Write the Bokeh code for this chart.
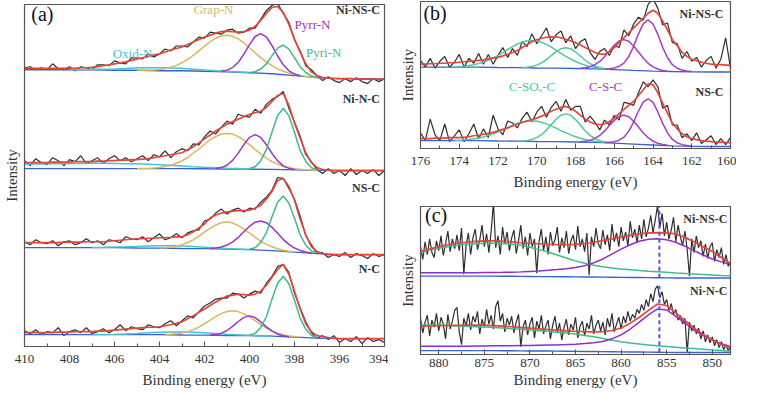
import numpy as np

from bokeh.plotting import figure
from bokeh.models import Range1d, SingleIntervalTicker, FixedTicker, Label
from bokeh.layouts import row, column
from bokeh.embed import file_html
from bokeh.resources import INLINE


# ---------- (a) N 1s : 410 -> 394 eV, 0.25 eV steps, intensity in a.u. ----------
n1s_energy = np.linspace(410, 394, 65)
n1s_base_energy = np.linspace(410, 394, 17)

ninsc_n_raw = [2, 3, 0, 2, 0, 6, 1, 0, 3, -1, 3, 2, 0, 5, 5, 4, 9, 7, 6, 12,
               12, 11, 16, 13, 16, 21, 19, 24, 24, 23, 28, 33, 32, 38, 37, 36, 40, 41, 37, 38,
               42, 42, 51, 60, 65, 67, 57, 48, 30, 19, 4, 0, -6, -11, -7, -11, -13, -9, -12, -8,
               -12, -14, -9, -12, -9]
ninsc_n_fit = [1.5, 1.5, 1.5, 1.5, 1.5, 1.5, 1.5, 1.5, 1.5, 1.5, 2, 2, 2.5, 3, 4, 5, 6, 7, 8, 9.5,
               11, 12, 13.5, 15, 16, 18, 20, 21.5, 23, 25.5, 28, 30.5, 33, 35, 37, 38.5, 39, 38.5, 38, 38.5,
               40, 44, 50, 57, 63, 64, 58, 46, 31, 18, 6, -2, -6, -8, -8.5, -9, -9, -9, -9, -9.5,
               -9.5, -9.5, -9.5, -9.5, -9.5]
ninsc_n_base = [0, 0, 0, 0, -0.5, -0.5, -1, -1, -1.5, -2, -3, -4, -6, -8, -9, -9, -9.5]
ninsc_grap = [-0.5, -0.5, -0.5, -0.3, 0.2, 1.1, 2.5, 4.4, 7.1, 10.5, 14.6, 19.1, 23.8, 28.3, 31.9, 34.2,
              35.0, 33.9, 31.2, 27.1, 22.3, 17.2, 12.3, 7.9, 4.1, 0.9, -1.5, -3.4, -4.8, -5.8, -6.6, -7.3, -8.0]
ninsc_pyrr = [-1.5, -0.4, 2.2, 7.5, 15.7, 25.4, 33.6, 36.5, 33.1, 24.4, 13.9, 5.0, -1.1, -4.4, -6.1]
ninsc_pyri = [-2.7, -2.0, 0.7, 5.9, 14.3, 21.9, 25.0, 20.9, 12.3, 3.1, -2.8, -6.3, -7.7]
ninsc_oxid = [0.1, 0.2, 0.4, 0.5, 0.7, 1.3, 1.9, 2.1, 2.0, 1.85, 1.4, 0.55, -0.3, -1.0, -1.6, -2.3, -2.9]

ninc_n_raw = [8, 3, 10, 6, 4, 11, 8, 3, 9, 7, 13, 5, 8, 11, 5, 10, 13, 8, 11, 7,
              10, 13, 8, 14, 12, 18, 11, 17, 20, 18, 25, 24, 32, 38, 35, 42, 48, 45, 55, 53,
              52, 60, 56, 65, 70, 73, 78, 61, 47, 33, 14, 7, -1, -5, 0, -5, -2, -7, 0, -6,
              -2, -5, -1, -7, -2]
ninc_n_fit = [6, 6, 6, 6, 6, 6.5, 6.5, 6.5, 6.5, 7, 7, 7, 7, 7.5, 7.5, 8, 8, 8.5, 8.5, 9,
              9, 9.5, 10, 11, 12, 13, 14, 15, 16, 19, 22, 26, 30, 34, 38, 41.5, 45, 47.5, 50, 52.5,
              55, 56.5, 58, 62, 68, 74, 76, 64, 46, 31, 16, 6, 1, -1, -1.5, -2, -2, -2, -2, -2,
              -2, -2, -2, -2, -2]
ninc_n_base = [0, 0, 0, 0, 0, 0, 0, 0, -0.2, -0.4, -0.6, -0.8, -1.3, -1.8, -2, -2, -2]
ninc_grap = [0.1, 0.2, 0.4, 0.7, 1.1, 2.2, 3.2, 5.4, 7.9, 11.2, 15.5, 19.8, 24.6, 29.0, 32.5, 35.0,
             35.6, 34.9, 32.3, 28.7, 24.2, 19.2, 14.8, 10.5, 7.1, 4.5, 2.2, 1.0, -0.2, -0.7, -1.2, -1.5, -1.7]
ninc_pyrr = [0.0, 1.0, 3.4, 8.3, 15.6, 24.3, 31.6, 34.3, 31.5, 24.1, 15.3, 7.8, 2.8, 0.2, -1.0]
ninc_pyri = [0.0, 1.9, 8.0, 19.1, 37.0, 53.7, 61.0, 53.4, 36.5, 18.4, 7.2, 0.8, -1.2]
ninc_oxid = [4.5, 4.6, 4.8, 5, 5.1, 5.2, 5.3, 5.3, 5.2, 5, 4.8, 4.4, 3.9, 3.3, 2.6, 1.9, 1.3, 0.8, 0.3, 0, -0.3]

nsc_n_raw = [6, 3, 8, 5, 4, 7, 2, 6, 7, 3, 5, 9, 5, 7, 3, 8, 7, 5, 11, 9,
             8, 11, 6, 10, 14, 8, 10, 14, 10, 15, 17, 18, 27, 29, 35, 39, 34, 38, 40, 36,
             40, 39, 46, 51, 58, 71, 70, 60, 49, 32, 12, 3, -6, -5, -10, -7, -9, -5, -10, -6,
             -8, -11, -6, -9, -7]
nsc_n_fit = [5, 5, 5, 5, 5, 5, 5, 5.5, 5.5, 5.5, 5.5, 6, 6, 6, 6, 6.5, 7, 7.5, 8, 8.5,
             9, 9, 9.5, 9.5, 10, 10, 10.5, 11, 11, 13, 16, 20, 24, 30, 33, 35, 36, 37, 37.5, 37.5,
             38, 40, 43, 49, 57, 68, 70, 62, 48, 29, 13, 1, -4, -6, -7, -7, -7, -7, -7, -7,
             -7, -7, -7, -7, -7]
nsc_n_base = [0, 0, 0, 0, 0, -0.3, -0.5, -0.8, -1, -1.5, -2, -3, -4.5, -6, -7, -7, -7]
nsc_grap = [-0.2, 0.0, 0.45, 1.5, 3.05, 5.2, 7.9, 11.75, 15.8, 19.5, 22.95, 25.3, 26.0, 25.1, 22.45,
            18.7, 14.8, 10.45, 6.3, 3.3, 0.85, -1.2, -2.65, -3.55, -4.2]
nsc_pyrr = [-0.8, -0.35, 0.7, 2.6, 5.8, 10.35, 16.1, 21.6, 25.75, 27.0, 25.25, 20.6, 14.6, 8.35, 3.3,
            -0.4, -2.8, -4.35, -5.3]
nsc_pyri = [-1.4, -0.05, 5.3, 15.15, 31.2, 45.9, 52.25, 45.2, 29.7, 13.0, 2.55, -3.4, -5.4]
nsc_oxid = [0.2, 0.35, 0.6, 0.85, 1.2, 1.6, 1.9, 1.85, 1.6, 1.1, 0.5, -0.25, -0.9, -1.4, -1.8]

nc_n_raw = [4, 1, 5, 0, 3, 2, 7, -1, 3, 5, 2, 7, 1, 3, 6, 2, 5, 10, 4, 8,
            6, 5, 10, 8, 7, 11, 14, 9, 14, 19, 17, 23, 29, 32, 36, 37, 37, 42, 41, 37,
            41, 44, 42, 52, 59, 69, 71, 63, 42, 27, 13, 2, -4, -1, -5, -1, -8, -4, -7, -2,
            -9, -3, -7, -5, -8]
nc_n_fit = [2, 2, 2, 2, 2, 2, 2.5, 2.5, 2.5, 3, 3, 3, 3, 3.5, 3.5, 4, 4.5, 5, 5.5, 6,
            6.5, 7, 7.5, 7.5, 8, 9, 10, 11.5, 13, 16, 19, 22.5, 26, 29.5, 33, 36, 39, 40, 41, 40.5,
            40, 41, 44, 50, 58, 66, 71, 61, 44, 26, 11, 3, -1, -2, -3, -3.5, -4, -4, -4, -4,
            -4, -4, -4, -4, -4]
nc_n_base = [0, 0, 0, 0, 0, 0, 0, -0.3, -0.5, -0.8, -1, -1.5, -2.5, -3.5, -4, -4, -4]
nc_grap = [0.17, 0.35, 0.78, 1.7, 3.15, 5.1, 7.55, 11.0, 14.6, 18.25, 21.3, 23.4, 24.15, 23.3, 21.05,
           17.9, 14.1, 10.25, 6.6, 4.0, 1.75, 0.0, -1.25, -2.0, -2.5]
nc_pyrr = [-0.38, 0.15, 1.48, 4.2, 8.35, 13.3, 17.45, 19.0, 17.28, 12.95, 7.82, 3.5, 0.45, -1.2, -2.05]
nc_pyri = [-0.4, 1.28, 7.25, 18.1, 35.7, 51.95, 59.0, 51.45, 34.7, 16.75, 5.5, -0.85, -2.9]
nc_oxid = [0.1, 0.2, 0.4, 0.75, 1.2, 1.8, 2.4, 2.7, 2.7, 2.45, 1.9, 1.15, 0.4, -0.15, -0.6, -1.05, -1.4]

# ---------- (b) S 2p : 176 -> 160 eV ----------
s2p_energy = np.linspace(176, 160, 65)
s2p_base_energy = np.linspace(176, 160, 17)

ninsc_s_raw = [7, 0, 9, -1, 6, 11, 0, 5, 13, 0, 9, 4, 14, 3, 13, 3, 12, 20, 10, 19,
               12, 26, 21, 34, 24, 32, 40, 26, 33, 37, 25, 32, 19, 26, 29, 15, 8, 16, 19, 12,
               22, 20, 38, 32, 44, 51, 48, 64, 70, 60, 43, 45, 25, 24, 9, 16, 6, 10, 0, 7,
               11, -1, 8, 30, -1]
ninsc_s_fit = [3, 3, 3.5, 3.5, 4, 4, 4.5, 4.5, 5, 5.5, 6, 6.5, 7, 7.5, 8.5, 9.5, 10, 11.5, 13, 15,
               17, 20, 23, 26, 28, 29.5, 30.5, 31, 31, 30, 28.5, 27, 25, 22.5, 20, 17.5, 15, 13.5, 13, 16,
               20, 25, 30, 35, 40, 45, 50, 55, 58, 55, 47, 38, 28, 22, 15, 11, 8, 6.5, 5, 4,
               3, 2.5, 2.5, 2, 2]
ninsc_s_base = [0, 0, 0, 0, -0.3, -0.5, -0.8, -1, -1.3, -1.8, -2.5, -3.3, -4, -4.5, -4.8, -5, -5]
ninsc_sox1 = [0.4, 0.6, 1.0, 1.6, 2.5, 3.6, 5.1, 6.95, 9.3, 11.9, 14.85, 18.0, 20.95, 23.6, 25.6, 26.85,
              27.3, 26.7, 25.35, 23.2, 20.45, 17.4, 14.1, 11.05, 8.3, 5.8, 3.8, 2.05, 0.8, -0.2, -1.0, -1.55, -1.9]
ninsc_sox2 = [-0.4, 0.0, 0.8, 2.1, 4.4, 7.7, 11.85, 15.8, 18.9, 19.85, 18.8, 15.5, 11.4, 7.05, 3.6, 1.1,
              -0.5, -1.55, -2.1]
ninsc_csc1 = [-1.1, -0.65, 0.5, 2.5, 5.8, 10.55, 16.6, 22.3, 26.8, 28.1, 26.4, 21.5, 15.4, 9.05, 3.9, 0.3,
              -1.9, -3.35, -4.1]
ninsc_csc2 = [-1.85, -1.5, -0.8, 0.8, 4.1, 10.9, 21.2, 34.0, 44.35, 48.2, 44.0, 33.4, 20.25, 9.6, 2.5,
              -1.1, -2.95, -3.9, -4.5]

nsc_s_raw = [8, 0, 22, 6, 0, 17, -1, 5, 11, -1, 7, 17, 2, 12, 3, 26, 12, 6, 20, 18,
             13, 23, 29, 19, 29, 35, 24, 34, 40, 30, 42, 31, 35, 35, 19, 25, 19, 11, 21, 16,
             26, 21, 39, 38, 36, 49, 60, 55, 62, 55, 33, 36, 16, 16, 3, 7, 0, 8, -3, 1,
             5, -4, 2, -4, 3]
nsc_s_fit = [2, 2, 2, 2.5, 2.5, 2.5, 3, 3, 3, 3.5, 4, 5, 5.5, 6.5, 7.5, 8.5, 10, 11.5, 13, 15,
             17, 18.5, 20, 21.5, 23, 25, 27.5, 30, 32, 34, 35, 33, 30, 26, 22, 19, 17, 16.5, 17, 19.5,
             23, 27.5, 32, 36, 40, 46, 52, 58, 57, 49, 38, 28, 18, 12, 7, 4, 2, 1, 0, -0.5,
             -1, -1.5, -1.5, -2, -2]
nsc_s_base = [0, 0, 0, 0, -0.3, -0.5, -0.8, -1, -1.3, -1.8, -2.5, -3.5, -4.5, -5.3, -5.8, -6, -6]
nsc_sox1 = [0.3, 0.45, 0.8, 1.2, 1.85, 2.7, 3.8, 5.2, 6.9, 8.9, 11.05, 13.4, 15.55, 17.5, 19.0, 19.95,
            20.3, 19.8, 18.75, 17.1, 15.05, 12.8, 10.3, 8.05, 5.9, 4.05, 2.5, 1.15, 0.2, -0.6, -1.2, -1.7, -2.0]
nsc_sox2 = [-0.3, 0.2, 1.3, 3.2, 6.25, 10.8, 16.45, 21.8, 26.0, 27.35, 25.9, 21.5, 16.0, 10.15, 5.4, 2.2,
            0.0, -1.3, -2.0]
nsc_csc1 = [-1.1, -0.65, 0.3, 2.3, 5.3, 9.75, 15.4, 20.7, 24.85, 26.0, 24.35, 19.7, 13.95, 7.9, 3.0, -0.4,
            -2.7, -4.0, -4.8]
nsc_csc2 = [-1.85, -1.6, -1.0, 0.45, 3.5, 9.75, 19.0, 30.25, 39.5, 42.75, 39.0, 29.3, 17.6, 7.9, 1.2,
            -2.2, -4.05, -4.98, -5.5]

# ---------- (c) Ni 2p : 882 -> 848 eV, raw 0.25 eV, fit 1 eV ----------
ni2p_energy = np.linspace(882, 848, 137)
ni2p_fit_energy = np.linspace(882, 848, 35)
ni2p_peak = 855.8

ninsc_ni_raw = [30, 17, 35, 22, 38, 24, 19, 36, 26, 41, 21, 33, 46, 25, 38, 28,
                42, 26, 49, 2, 31, 44, 22, 39, 48, 27, 37, 52, 30, 43, 24, 46,
                75, 29, 41, 22, 50, 33, 45, 26, 39, 47, 23, 36, 52, 28, 40, 21,
                44, 30, 38, 3, 35, 48, 26, 40, 22, 45, 31, 37, 50, 24, 39, 29,
                46, 23, 36, 42, 27, 51, 30, 38, 25, 44, 1, 40, 30, 49, 33, 28,
                47, 32, 42, 26, 53, 35, 44, 30, 50, 36, 45, 31, 56, 39, 48, 34,
                52, 38, 58, 40, 49, 62, 44, 57, 72, 50, 64, 41, 55, 38, 47, 60,
                35, 52, 40, 31, 46, 27, 0, 38, 24, 41, 29, 36, 20, 33, 18, 30,
                34, 15, 27, 19, 29, 12, 22, 10, 14]
ninsc_ni_fit = [25, 27.5, 30, 32, 33.5, 34.5, 35.5, 36, 36, 35.5, 35, 34, 33.5, 33, 32.5, 32, 32, 32.3,
                33, 34.5, 36.2, 38, 40, 41.5, 43, 44, 44.3, 44, 43, 39.5, 35, 30, 25, 19, 13]
ninsc_ni_base = [0, 0, 0, 0, 0, 0, 0, 0, 0, -0.1, -0.2, -0.3, -0.4, -0.5, -0.5, -0.6, -0.7, -0.8,
                 -0.9, -1, -1.1, -1.2, -1.3, -1.4, -1.5, -1.6, -1.7, -1.8, -1.9, -2, -2, -2, -2, -2, -2]
ninsc_ni_main = [3.5, 3.5, 3.5, 3.5, 3.5, 3.5, 3.5, 3.6, 3.7, 3.8, 4, 4.3, 4.8, 5.3, 5.9, 6.6, 7.5, 8.7,
                 10.5, 13.5, 17.5, 22.5, 27.5, 32, 35.5, 37.5, 38, 37, 34.5, 30.5, 26, 21.5, 17.5, 14.5, 12]
ninsc_ni_sat = [24, 26.5, 28.5, 30, 31.5, 32.5, 33, 33.5, 33.5, 33.3, 32.5, 31.5, 29.5, 27, 24.5, 21.5,
                18.5, 15.5, 13, 11, 9.5, 8.3, 7.3, 6.5, 5.7, 5, 4.4, 3.8, 3.2, 2.7, 2.2, 1.7, 1.2, 0.7, 0.3]

ninc_ni_raw = [33, 18, 29, 36, 15, 31, 24, 38, 20, 34, 27, 12, 37, 22, 30, 41,
               44, 19, 6, 33, 25, 38, 21, 35, 29, 40, 17, 32, 24, 42, 27, 36,
               22, 45, 51, 30, 38, 19, 33, 26, 35, 18, 29, 37, 4, 24, 31, 16,
               27, 34, 13, 30, 22, 36, 17, 25, 31, 12, 26, 35, 18, 28, 11, 24,
               32, 16, 27, 21, 34, 13, 25, 30, 15, 28, 22, 36, 17, 26, 31, 20,
               29, 16, 33, 24, 38, 19, 27, 34, 22, 35, 28, 40, 30, 37, 33, 42,
               38, 47, 41, 52, 45, 58, 50, 63, 66, 54, 60, 47, 52, 41, 48, 37,
               42, 31, 36, 27, 33, -2, 29, 20, 26, 17, 23, 12, 20, 9, 16, 8,
               14, 5, 11, 3, 9, 1, 6, 0, 4]
ninc_ni_fit = [25, 25.2, 25.4, 25.6, 25.8, 26, 26, 26, 25.5, 25, 24.3, 23.6, 23, 22.2, 21.5, 20.8, 20.2,
               19.7, 19.3, 19, 19.2, 20.5, 23, 28, 34, 41, 47.5, 46, 38.5, 30.5, 23, 16.5, 11, 6.5, 3]
ninc_ni_base = [0, 0, 0, 0, 0, 0, 0, 0, 0, -0.1, -0.2, -0.3, -0.4, -0.5, -0.5, -0.6, -0.7, -0.8,
                -0.9, -1, -1.1, -1.2, -1.3, -1.4, -1.5, -1.6, -1.7, -1.8, -1.9, -2, -2, -2, -2, -2, -2]
ninc_ni_main = [4.5, 4.5, 4.5, 4.5, 4.5, 4.5, 4.6, 4.7, 4.8, 4.9, 5, 5.1, 5.2, 5.4, 5.6, 5.8, 6.1, 6.5,
                7.1, 8, 9.3, 12, 16, 22, 29, 36.5, 42.5, 41.5, 35, 28, 21, 15.5, 11, 7, 4]
ninc_ni_sat = [26, 26, 25.8, 25.5, 25.2, 24.8, 24.4, 24, 23.5, 23, 22.3, 21.7, 21, 20.3, 19.6, 18.8, 18,
               16.8, 15.4, 14, 12.3, 10.6, 9, 7.8, 6.8, 5.8, 5, 4.2, 3.4, 2.7, 2, 1.3, 0.6, 0, -0.6]


SERIF = "Liberation Serif, DejaVu Serif, serif"
RAW = "#2e2e2e"
FIT = "#e2463c"
BASE = "#3b63cc"
GRAP = "#d8b85e"
PYRR = "#a033c6"
PYRI = "#3dba8e"
OXID = "#42c6d6"
SOX = "#4cc9a0"
CSC = "#a53cc9"
SAT = "#3dbd8a"
MAIN = "#8c2fcc"
DASH = "#5b4fe0"


def grid(start, step, n):
    return start - step * np.arange(n)


def spectrum(p, e, raw, fit_e, fit, base_e, base, comps, shift):
    p.line(e, np.asarray(raw) + shift, line_color=RAW, line_width=1.2)
    p.line(base_e, np.asarray(base) + shift, line_color=BASE, line_width=1.4)
    for start, step, vals, color in comps:
        p.line(grid(start, step, len(vals)), np.asarray(vals) + shift, line_color=color, line_width=1.5)
    p.line(fit_e, np.asarray(fit) + shift, line_color=FIT, line_width=1.7)


def panel(x0, x1, ytop, fw, fh, left, right, top, bottom, step, s1, s2):
    p = figure(x_range=Range1d(x0, x1), y_range=Range1d(0, ytop),
               frame_width=fw, frame_height=fh,
               min_border_left=left, min_border_right=right,
               min_border_top=top, min_border_bottom=bottom,
               output_backend="svg", toolbar_location=None, tools="")
    p.grid.visible = False
    p.outline_line_color = "#555555"
    p.outline_line_width = 1.2
    p.background_fill_color = "white"
    p.border_fill_color = "white"

    xa = p.xaxis[0]
    xa.ticker = SingleIntervalTicker(interval=step, num_minor_ticks=2)
    xa.axis_label = "Binding energy (eV)"
    xa.axis_label_text_font = SERIF
    xa.axis_label_text_font_style = "normal"
    xa.axis_label_text_font_size = "15px"
    xa.axis_label_text_color = "#333333"
    xa.major_label_text_font = SERIF
    xa.major_label_text_font_size = "13px"
    xa.major_label_text_color = "#333333"
    xa.major_tick_in = 5
    xa.major_tick_out = 0
    xa.minor_tick_in = 3
    xa.minor_tick_out = 0
    xa.axis_line_color = "#555555"
    xa.major_tick_line_color = "#555555"
    xa.minor_tick_line_color = "#555555"
    xa.major_label_standoff = s1
    xa.axis_label_standoff = s2

    ya = p.yaxis[0]
    ya.ticker = FixedTicker(ticks=[])
    ya.axis_label = "Intensity"
    ya.axis_label_text_font = SERIF
    ya.axis_label_text_font_style = "normal"
    ya.axis_label_text_font_size = "15px"
    ya.axis_label_text_color = "#333333"
    ya.major_label_standoff = 0
    ya.axis_label_standoff = 5
    ya.major_tick_in = 0
    ya.major_tick_out = 0
    ya.minor_tick_in = 0
    ya.minor_tick_out = 0
    ya.axis_line_color = "#555555"
    return p


def text(p, x, y, s, color="#333333", size="13px", align="center", bold=False):
    p.add_layout(Label(x=x, y=y, text=s, text_font=SERIF, text_font_size=size,
                       text_color=color, text_align=align, text_baseline="middle",
                       text_font_style="bold" if bold else "normal"))


# ---- (a) ----
pa = panel(410, 394, 346, 360, 342, 24, 4, 4, 48, 2, 8, 6)
n1s_sets = [
    (ninsc_n_raw, ninsc_n_fit, ninsc_n_base,
     [(408, 0.5, ninsc_oxid, OXID), (405, 0.25, ninsc_grap, GRAP),
      (401.25, 0.25, ninsc_pyrr, PYRR), (400, 0.25, ninsc_pyri, PYRI)], 280),
    (ninc_n_raw, ninc_n_fit, ninc_n_base,
     [(410, 0.5, ninc_oxid, OXID), (405, 0.25, ninc_grap, GRAP),
      (401.5, 0.25, ninc_pyrr, PYRR), (400, 0.25, ninc_pyri, PYRI)], 180),
    (nsc_n_raw, nsc_n_fit, nsc_n_base,
     [(407, 0.5, nsc_oxid, OXID), (404, 0.25, nsc_grap, GRAP),
      (401.75, 0.25, nsc_pyrr, PYRR), (400, 0.25, nsc_pyri, PYRI)], 100),
    (nc_n_raw, nc_n_fit, nc_n_base,
     [(407, 0.5, nc_oxid, OXID), (403.75, 0.25, nc_grap, GRAP),
      (401.75, 0.25, nc_pyrr, PYRR), (400, 0.25, nc_pyri, PYRI)], 12),
]
for raw, fit, base, comps, shift in n1s_sets:
    spectrum(pa, n1s_energy, raw, n1s_energy, fit, n1s_base_energy, base, comps, shift)

text(pa, 409.7, 336, "(a)", "#111111", "20px", "left")
for name, y in zip(["Ni-NS-C", "Ni-N-C", "NS-C", "N-C"], [340, 250, 160, 78]):
    text(pa, 394.2, y, name, "#333333", "12px", "right", True)
text(pa, 401.6, 341, "Grap-N", GRAP)
text(pa, 397.2, 326, "Pyrr-N", PYRR)
text(pa, 396.7, 297, "Pyri-N", PYRI)
text(pa, 405.2, 296, "Oxid-N", OXID)

# ---- (b) ----
pb = panel(176, 160, 150, 310, 147, 32, 6, 1, 48, 2, 8, 6)
s2p_sets = [
    (ninsc_s_raw, ninsc_s_fit, ninsc_s_base,
     [(174.25, 0.25, ninsc_sox1, SOX), (170.75, 0.25, ninsc_sox2, SOX),
      (167.75, 0.25, ninsc_csc1, CSC), (166.5, 0.25, ninsc_csc2, CSC)], 83),
    (nsc_s_raw, nsc_s_fit, nsc_s_base,
     [(174.25, 0.25, nsc_sox1, SOX), (170.75, 0.25, nsc_sox2, SOX),
      (167.75, 0.25, nsc_csc1, CSC), (166.5, 0.25, nsc_csc2, CSC)], 8),
]
for raw, fit, base, comps, shift in s2p_sets:
    spectrum(pb, s2p_energy, raw, s2p_energy, fit, s2p_base_energy, base, comps, shift)

text(pb, 175.85, 138, "(b)", "#111111", "20px", "left")
text(pb, 160.36, 137, "Ni-NS-C", "#333333", "12px", "right", True)
text(pb, 160.36, 58, "NS-C", "#333333", "12px", "right", True)
text(pb, 170.24, 63, "C-SO\u2093-C", SOX)
text(pb, 166.45, 63, "C-S-C", CSC)

# ---- (c) ----
pc = panel(882, 848, 151, 310, 148, 32, 6, 10, 40, 5, 4, 2)
ni2p_sets = [
    (ninsc_ni_raw, ninsc_ni_fit, ninsc_ni_base,
     [(882, 1, ninsc_ni_sat, SAT), (882, 1, ninsc_ni_main, MAIN)], 80),
    (ninc_ni_raw, ninc_ni_fit, ninc_ni_base,
     [(882, 1, ninc_ni_sat, SAT), (882, 1, ninc_ni_main, MAIN)], 4),
]
for raw, fit, base, comps, shift in ni2p_sets:
    spectrum(pc, ni2p_energy, raw, ni2p_fit_energy, fit, ni2p_fit_energy, base, comps, shift)
    k = int(np.argmin(np.abs(ni2p_fit_energy - ni2p_peak)))
    pc.segment(x0=[ni2p_peak], y0=[base[k] + shift], x1=[ni2p_peak], y1=[max(raw) + shift],
               line_color=DASH, line_width=2, line_dash="4 3")

text(pc, 881.5, 142, "(c)", "#111111", "20px", "left")
text(pc, 848.35, 138, "Ni-NS-C", "#333333", "12px", "right", True)
text(pc, 848.35, 65, "Ni-N-C", "#333333", "12px", "right", True)

layout = row(pa, column(pb, pc))
open("out.html", "w").write(file_html(layout, INLINE))
